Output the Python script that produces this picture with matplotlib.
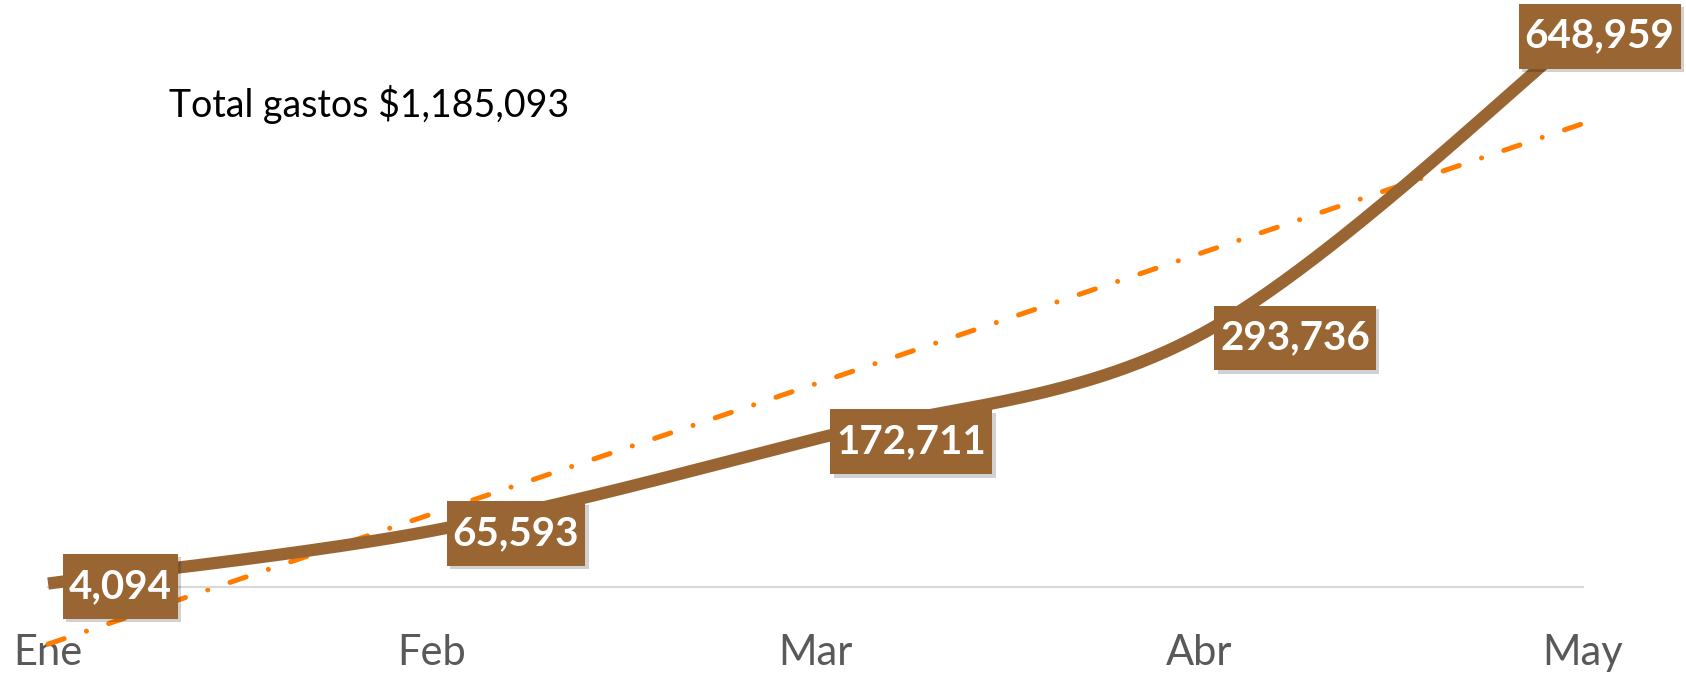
import numpy as np
import matplotlib
matplotlib.use("Agg")
import matplotlib.pyplot as plt
import matplotlib.patheffects as pe

# monthly spending
months = ["Ene", "Feb", "Mar", "Abr", "May"]
gastos = [4094, 65593, 172711, 293736, 648959]

brown = "#996633"
orange = "#FF7C00"
grey_text = "#595959"

plt.rcParams["font.family"] = ["Lato", "DejaVu Sans"]


def smooth(xs, ys, n=60):
    # Catmull-Rom style bezier, like the spreadsheet's "smoothed line"
    pts = np.column_stack([xs, ys]).astype(float)
    pts = np.vstack([pts[0], pts, pts[-1]])
    out = []
    for i in range(1, len(pts) - 2):
        p0, p1, p2, p3 = pts[i - 1], pts[i], pts[i + 1], pts[i + 2]
        c1 = p1 + (p2 - p0) / 6.0
        c2 = p2 - (p3 - p1) / 6.0
        t = np.linspace(0, 1, n)[:, None]
        seg = ((1 - t) ** 3) * p1 + 3 * ((1 - t) ** 2) * t * c1 \
            + 3 * (1 - t) * t ** 2 * c2 + t ** 3 * p2
        out.append(seg if i == 1 else seg[1:])
    out = np.vstack(out)
    return out[:, 0], out[:, 1]


fig = plt.figure(figsize=(16.86, 6.74), dpi=100)
ax = fig.add_axes([0.0285, 0.129, 0.9104, 0.865])

x = np.arange(len(months))
sx, sy = smooth(x, gastos)
ax.plot(sx, sy, color=brown, lw=8.8, solid_capstyle="butt", clip_on=False, zorder=3)

# linear trend
k, b = np.polyfit(x, gastos, 1)
tx = np.array([x[0], x[-1]])
ax.plot(tx, k * tx + b, color=orange, lw=3.6, dashes=[3.4, 4.7, 0.01, 4.7],
        dash_capstyle="round", clip_on=False, zorder=2)

# data labels
for i, v in enumerate(gastos):
    if i == len(gastos) - 1:
        off, ha = (12, -4), "center"
    else:
        off, ha = (15, -2), "left"
    t = ax.annotate(f"{v:,}", xy=(i, v), xytext=off, textcoords="offset points",
                    ha=ha, va="center", color="white", fontsize=29,
                    fontweight="bold", zorder=5, annotation_clip=False,
                    bbox=dict(boxstyle="square,pad=0.15", fc=brown, ec="none",
                              mutation_aspect=2.3))
    t.get_bbox_patch().set_path_effects([
        pe.SimplePatchShadow(offset=(2.5, -2.5), shadow_rgbFace="black", alpha=0.18),
        pe.Normal()])

ax.set_xlim(0, len(months) - 1)
ax.set_ylim(0, 680000)
ax.set_xticks(x)
ax.set_xticklabels(months, fontsize=30, color=grey_text)
ax.tick_params(axis="x", length=0, pad=34)
ax.set_yticks([])
for s in ["top", "left", "right"]:
    ax.spines[s].set_visible(False)
ax.spines["bottom"].set_color("#D9D9D9")
ax.spines["bottom"].set_linewidth(1.5)
ax.patch.set_alpha(0)

fig.text(169 / 1686, 1 - 104 / 674, f"Total gastos ${sum(gastos):,}",
         fontsize=27, color="black", va="center", ha="left")

fig.savefig("out.png", dpi=100)
